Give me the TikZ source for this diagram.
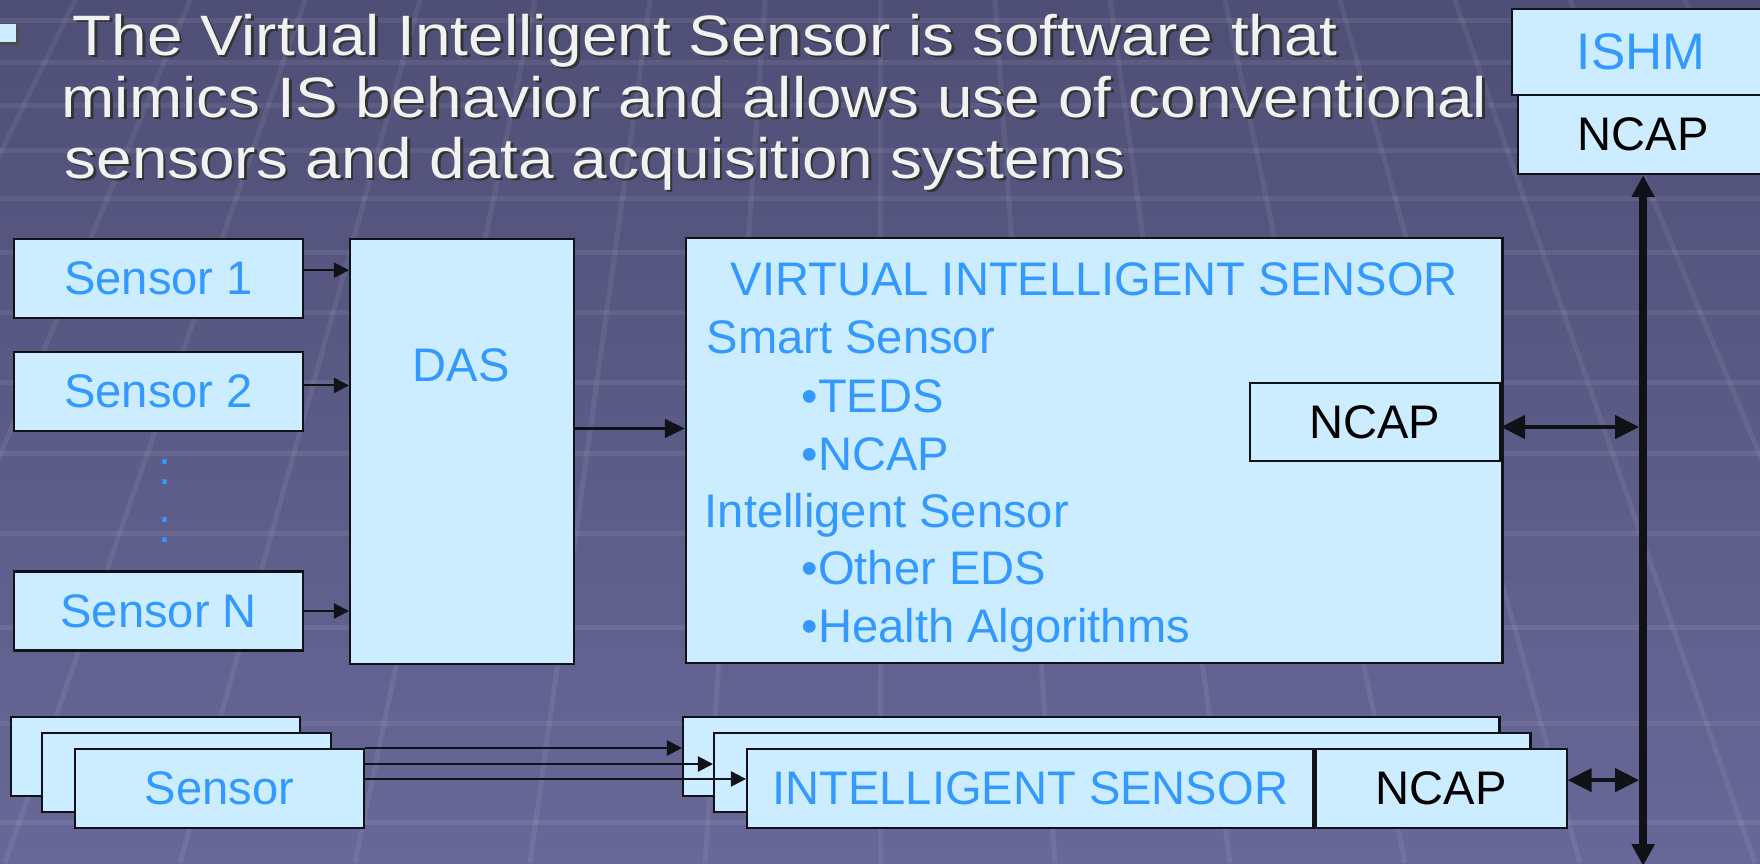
\documentclass[tikz,border=0pt]{standalone}
\usepackage{fontspec}
\setmainfont{Liberation Sans}
\newfontfamily\headfont[FakeStretch=1.12]{Liberation Sans}
\usetikzlibrary{arrows.meta,positioning,calc}
\definecolor{boxfill}{HTML}{CCECFF}
\definecolor{bluetext}{HTML}{3399FF}
\definecolor{bgtop}{RGB}{78,78,118}
\definecolor{bgbot}{RGB}{104,104,152}
\definecolor{ink}{HTML}{111118}
\definecolor{headc}{HTML}{F2F2F2}
\begin{document}
\begin{tikzpicture}[x=0.01cm,y=-0.01cm,
    every node/.style={inner sep=0pt,font=\fontsize{13.4}{16}\selectfont},
    box/.style={draw=ink,line width=0.6pt,fill=boxfill},
    blue box/.style={box,text=bluetext},
    sensor/.style={blue box,minimum width=2.89cm,minimum height=0.79cm},
    intel/.style={box,minimum width=8.16cm,minimum height=0.79cm},
    vis line/.style={anchor=base west,text=bluetext},
    head/.style={anchor=base west,font=\headfont\fontsize{16.2}{18}\selectfont},
    sig/.style={draw=ink,line width=0.6pt,-{Triangle[length=0.15cm,width=0.15cm]}},
    feed/.style={draw=ink,line width=1.1pt,-{Triangle[length=0.2cm,width=0.18cm]}},
    link/.style={draw=ink,line width=1.2pt,{Triangle[length=0.24cm,width=0.23cm]}-{Triangle[length=0.24cm,width=0.23cm]},shorten >=0.04cm},
    bus/.style={draw=ink,line width=2.3pt,{Triangle[length=0.22cm,width=0.22cm]}-{Triangle[length=0.22cm,width=0.22cm]}},
    bgline/.style={white,opacity=0.07,line width=0.05cm}]
\useasboundingbox (0,0) rectangle (1760,863);
\clip (0,0) rectangle (1760,863);
\fill[top color=bgtop,bottom color=bgbot] (0,0) rectangle (1760,863);
\foreach \y in {20,62,105,150,198,252,312,382,453,533,627,723,822}
  \draw[bgline] (0,\y) -- (1760,\y);
\foreach \k in {-8,...,8}
  \draw[bgline] ({880+115*\k},0) -- ({880+175*\k},863);

\fill[black!70] (-4,27) rectangle (19,45);
\fill[boxfill] (-6,24) rectangle (16,42);
\foreach \n/\x/\y/\t in {1/72/55/The Virtual Intelligent Sensor is software that,
    2/61/117/mimics IS behavior and allows use of conventional,
    3/64/178/sensors and data acquisition systems}{
  \node[head,text=black!80] (hs\n) at (\x+2.5,\y+2.5) {\t};
  \node[head,text=headc] (h\n) at (\x,\y) {\t};
}

\node[sensor,anchor=north west] (s1) at (13,238) {Sensor 1};
\node[sensor,below=0.32cm of s1] (s2) {Sensor 2};
\node[sensor,below=1.38cm of s2] (sn) {Sensor N};
\node[text=bluetext,anchor=base] (dots1) at (165,484) {:};
\node[text=bluetext,anchor=base] (dots2) at (165,542) {:};
\node[box,minimum width=2.24cm,minimum height=4.25cm,anchor=north west] (das) at (349,238) {};
\node[text=bluetext] (dasl) at (461,365) {DAS};
\draw[sig] ($(s1.east)+(0,2.4pt)$) -- ($(s1.east -| das.west)+(0,2.4pt)$);
\draw[sig] ($(s2.east)+(0,1.8pt)$) -- ($(s2.east -| das.west)+(0,1.8pt)$);
\draw[sig] (sn.east) -- (sn.east -| das.west);

\node[box,minimum width=8.16cm,minimum height=4.25cm,anchor=north west] (vis) at (685,237) {};
\node[text=bluetext,anchor=base] (vist) at (vis.north |- 0,295) {VIRTUAL INTELLIGENT SENSOR};
\node[vis line] (ss) at (706,353) {Smart Sensor};
\node[vis line] (teds) at (801,412) {•TEDS};
\node[vis line] (ncapl) at (801,470) {•NCAP};
\node[vis line] (is) at (704,527) {Intelligent Sensor};
\node[vis line] (eds) at (801,584) {•Other EDS};
\node[vis line] (health) at (801,642) {•Health Algorithms};
\node[box,minimum width=2.5cm,minimum height=0.78cm,anchor=north east] (ncapv) at (1501,382) {NCAP};
\draw[feed] ($(das.east)+(0,6.6pt)$) -- ($(das.east -| vis.west)+(0,6.6pt)$);

\node[blue box,font=\fontsize{14.6}{16}\selectfont,minimum width=2.58cm,minimum height=0.86cm,anchor=north west] (ishm) at (1511,8) {ISHM};
\node[box,minimum width=2.5cm,minimum height=0.79cm,anchor=north west] (ncapt) at (1517,94) {NCAP};
\coordinate (busend) at (ncapt.south |- 0,866);

\node[sensor,anchor=north west] (sa) at (10,716) {};
\node[sensor,anchor=north west] (sb) at (41,732) {};
\node[sensor,anchor=north west] (sc) at (74,748) {Sensor};
\node[intel,anchor=north west] (ia) at (682,716) {};
\node[intel,anchor=north west] (ib) at (713,732) {};
\node[blue box,minimum width=5.66cm,minimum height=0.79cm,anchor=north west] (ic) at (746,748) {INTELLIGENT SENSOR};
\node[box,minimum width=2.51cm,minimum height=0.79cm,anchor=north west] (ncapb) at (ic.north east) {NCAP};
\draw[sig] (sc.north east) -- (sc.north east -| ia.west);
\draw[sig] ($(sc.north east)+(0,-4.55pt)$) -- ($(sc.north east -| ib.west)+(0,-4.55pt)$);
\draw[sig] ($(sc.north east)+(0,-8.8pt)$) -- ($(sc.north east -| ic.west)+(0,-8.8pt)$);

\draw[link] ($(ncapv.east)+(0,-1.4pt)$) -- ($(ncapv.east -| ncapt.south)+(0,-1.4pt)$);
\draw[link] ($(ncapb.east)+(0,2.4pt)$) -- ($(ncapb.east -| ncapt.south)+(0,2.4pt)$);
\draw[bus] (busend) -- (ncapt.south);
\end{tikzpicture}
\end{document}
